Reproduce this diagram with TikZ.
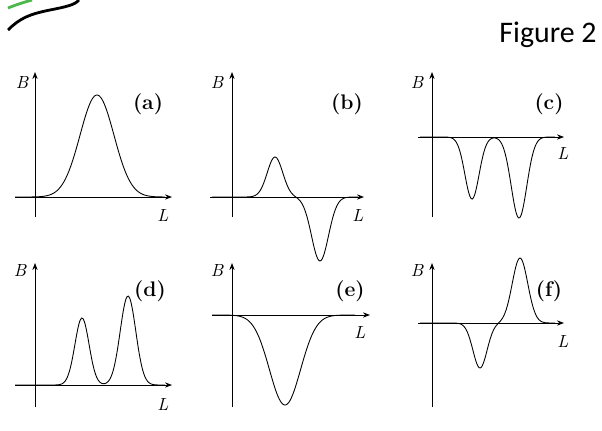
\documentclass[tikz,border=0pt]{standalone}
\usepackage{fontspec}
\newfontfamily\figfont{Carlito}
\usetikzlibrary{arrows.meta}
\begin{document}
\begin{tikzpicture}[x=0.02cm,y=-0.02cm,
  ax/.style={line width=0.5pt,-{Stealth[length=4pt,width=3pt]}},
  cv/.style={line width=0.5pt,smooth,samples=120},
  lab/.style={font=\normalsize\itshape},
  pl/.style={font=\large\bfseries}]
\useasboundingbox (0,0) rectangle (602,430);
% decoration
\draw[line width=1.6pt,green!60!black!70] (8,8) .. controls (18,4) and (25,2) .. (32,0);
\draw[line width=1.6pt] (8,30) .. controls (20,18) and (30,14) .. (50,10) .. controls (65,7) and (75,5) .. (79,0);
\node[font=\figfont\fontsize{17}{19}\selectfont] (title) at (548,35) {Figure 2};
% (a)
\draw[ax] (35,217) -- (35,72);
\draw[ax] (15,197) -- (172,197);
\draw[cv,domain=15:165] plot (\x,{197-102*exp(-((\x-97)/24)^2)});
\node[lab] (aB) at (22,82) {B};
\node[lab] (aL) at (163,215) {L};
\node[pl] (aT) at (148,104) {(a)};
% (b)
\draw[ax] (232,217) -- (232,72);
\draw[ax] (210,197) -- (364,197);
\draw[cv,domain=212:358] plot (\x,{197-40*exp(-((\x-275)/11)^2)+64*exp(-((\x-320)/12)^2)});
\node[lab] (bB) at (217,82) {B};
\node[lab] (bL) at (358,215) {L};
\node[pl] (bT) at (347,104) {(b)};
% (c)
\draw[ax] (432,217) -- (432,72);
\draw[ax] (418,137) -- (564,137);
\draw[cv,domain=420:555] plot (\x,{137+62*exp(-((\x-472)/10)^2)+81*exp(-((\x-519)/11)^2)});
\node[lab] (cB) at (417,82) {B};
\node[lab] (cL) at (563,153) {L};
\node[pl] (cT) at (549,104) {(c)};
% (d)
\draw[ax] (35,407) -- (35,263);
\draw[ax] (15,385) -- (172,385);
\draw[cv,domain=15:165] plot (\x,{385-67*exp(-((\x-82)/10)^2)-89*exp(-((\x-128)/11)^2)});
\node[lab] (dB) at (20,270) {B};
\node[lab] (dL) at (163,404) {L};
\node[pl] (dT) at (150,291) {(d)};
% (e)
\draw[ax] (232,407) -- (232,263);
\draw[ax] (212,315) -- (370,315);
\draw[cv,domain=212:355] plot (\x,{315+90*exp(-((\x-285)/22)^2)});
\node[lab] (eB) at (217,270) {B};
\node[lab] (eL) at (360,332) {L};
\node[pl] (eT) at (350,291) {(e)};
% (f)
\draw[ax] (432,407) -- (432,263);
\draw[ax] (418,323) -- (564,323);
\draw[cv,domain=420:555] plot (\x,{323+45*exp(-((\x-480)/10)^2)-65*exp(-((\x-520)/11)^2)});
\node[lab] (fB) at (417,270) {B};
\node[lab] (fL) at (563,341) {L};
\node[pl] (fT) at (549,291) {(f)};
\end{tikzpicture}
\end{document}
